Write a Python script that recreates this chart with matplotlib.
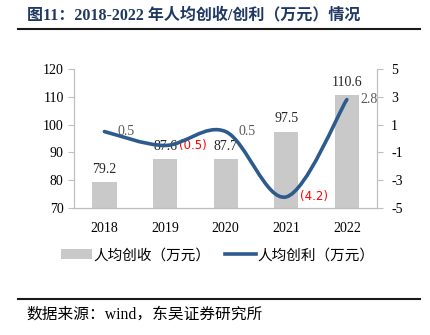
import matplotlib

matplotlib.use("Agg")
import matplotlib.pyplot as plt
import numpy as np
from matplotlib.lines import Line2D
from matplotlib.patches import Patch, PathPatch
from matplotlib.path import Path

plt.rcParams["font.family"] = ["Liberation Serif", "Noto Sans CJK SC"]
plt.rcParams["axes.unicode_minus"] = False

years = ["2018", "2019", "2020", "2021", "2022"]
revenue = [79.2, 87.6, 87.7, 97.5, 110.6]
profit = [0.5, -0.5, 0.5, -4.2, 2.8]

BAR_COLOR = "#C9C9C9"
LINE_COLOR = "#2E5B8E"
AXIS_COLOR = "#BFBFBF"


def smooth_path(xs, ys):
    # Bezier segments with Catmull-Rom style control points (Excel-like smoothing)
    pts = np.column_stack([xs, ys]).astype(float)
    ext = np.vstack([pts[0], pts, pts[-1]])
    verts = [pts[0]]
    codes = [Path.MOVETO]
    for i in range(len(pts) - 1):
        p0, p1, p2, p3 = ext[i], ext[i + 1], ext[i + 2], ext[i + 3]
        c1 = p1 + (p2 - p0) / 6.0
        c2 = p2 - (p3 - p1) / 6.0
        verts += [c1, c2, p2]
        codes += [Path.CURVE4] * 3
    return Path(verts, codes)


fig = plt.figure(figsize=(4.31, 3.35), dpi=100)
ax = fig.add_axes([0.172, 0.379, 0.703, 0.415])
x = np.arange(len(years))

ax.bar(x, revenue, width=0.4, color=BAR_COLOR, zorder=2)
for xi, v in zip(x, revenue):
    ax.text(xi, v + 2.2, f"{v}", ha="center", va="bottom", fontsize=10, color="#262626", zorder=3)

ax.set_ylim(70, 120)
ax.set_yticks(range(70, 121, 10))
ax.set_xlim(-0.5, len(years) - 0.5)
ax.set_xticks(x)
ax.set_xticklabels(years)

ax2 = ax.twinx()
ax2.set_ylim(-5, 5)
ax2.set_yticks([-5, -3, -1, 1, 3, 5])
ax2.add_patch(PathPatch(smooth_path(x, profit), facecolor="none", edgecolor=LINE_COLOR,
                        lw=2.6, capstyle="round", zorder=4))
for xi, v in zip(x, profit):
    if v < 0:
        ax2.text(xi + 0.23, v, f"({abs(v)})", ha="left", va="center", fontsize=8.5,
                 color="#FF0000", family=["DejaVu Sans"])
    else:
        ax2.text(xi + 0.22, v, f"{v}", ha="left", va="center", fontsize=10, color="#595959")

for a in (ax, ax2):
    a.spines["top"].set_visible(False)
    for side in ("left", "right", "bottom"):
        a.spines[side].set_color(AXIS_COLOR)
    a.tick_params(axis="y", colors=AXIS_COLOR, labelcolor="#000000", labelsize=10, length=4, width=0.8)
ax.tick_params(axis="x", length=0, labelsize=10, pad=10)
ax2.tick_params(axis="y", pad=6)

fig.text(0.062, 0.955, "图11：2018-2022 年人均创收/创利（万元）情况", fontsize=11.5, fontweight="bold",
         color="#1F3864", ha="left", va="center")
fig.add_artist(Line2D([0.042, 0.975], [0.912, 0.912], transform=fig.transFigure, color="#1a1a1a", lw=1.5))
fig.add_artist(Line2D([0.042, 0.975], [0.107, 0.107], transform=fig.transFigure, color="#1a1a1a", lw=1.5))
fig.text(0.062, 0.06, "数据来源：wind，东吴证券研究所", fontsize=11.3, color="#000000", ha="left", va="center")

handles = [Patch(facecolor=BAR_COLOR, edgecolor="none"), Line2D([], [], color=LINE_COLOR, lw=2.6)]
fig.legend(handles, ["人均创收（万元）", "人均创利（万元）"], loc="center", bbox_to_anchor=(0.505, 0.238),
           ncol=2, frameon=False, fontsize=10.5, handlelength=2.1, handleheight=0.6, columnspacing=1.0,
           handletextpad=0.1)

fig.savefig("out.png", dpi=100)
